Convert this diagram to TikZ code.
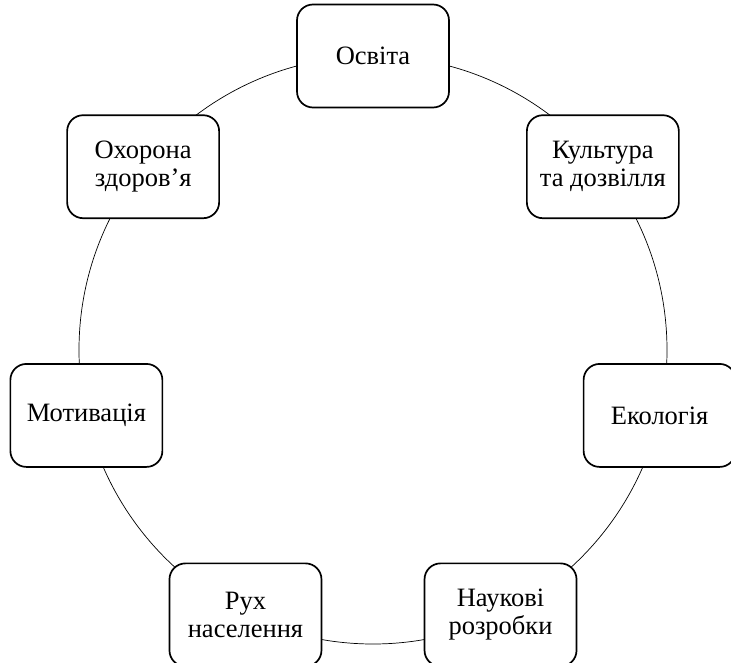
\documentclass[tikz,border=0pt]{standalone}
\usepackage{fontspec}
\setmainfont{Liberation Serif}
\begin{document}
\begin{tikzpicture}[x=1pt,y=1pt,
  topic/.style={draw, line width=1.7pt, rounded corners=16pt, fill=white,
    minimum width=152pt, minimum height=103pt, align=center,
    font=\fontsize{26.5}{28}\selectfont, inner sep=2pt},
  ring/.style={line width=0.7pt}]
\useasboundingbox (0,0) rectangle (731,-663);
\coordinate (c) at (373,-350);
\draw[ring] (c) circle (294);
\begin{scope}[shift={(c)}]
\node[topic] (osvita)   at (90:294)      {Освіта};
\node[topic] (kultura)  at (38.57:294)   {Культура\\та дозвілля};
\node[topic] (ekolog)   at (-12.86:294)  {Екологія};
\node[topic] (nauk)     at (-64.29:294)  {Наукові\\розробки};
\node[topic] (rukh)     at (-115.71:294) {Рух\\населення};
\node[topic] (motyv)    at (-167.14:294) {Мотивація};
\node[topic] (okhorona) at (141.43:294)  {Охорона\\здоров’я};
\end{scope}
\end{tikzpicture}
\end{document}
